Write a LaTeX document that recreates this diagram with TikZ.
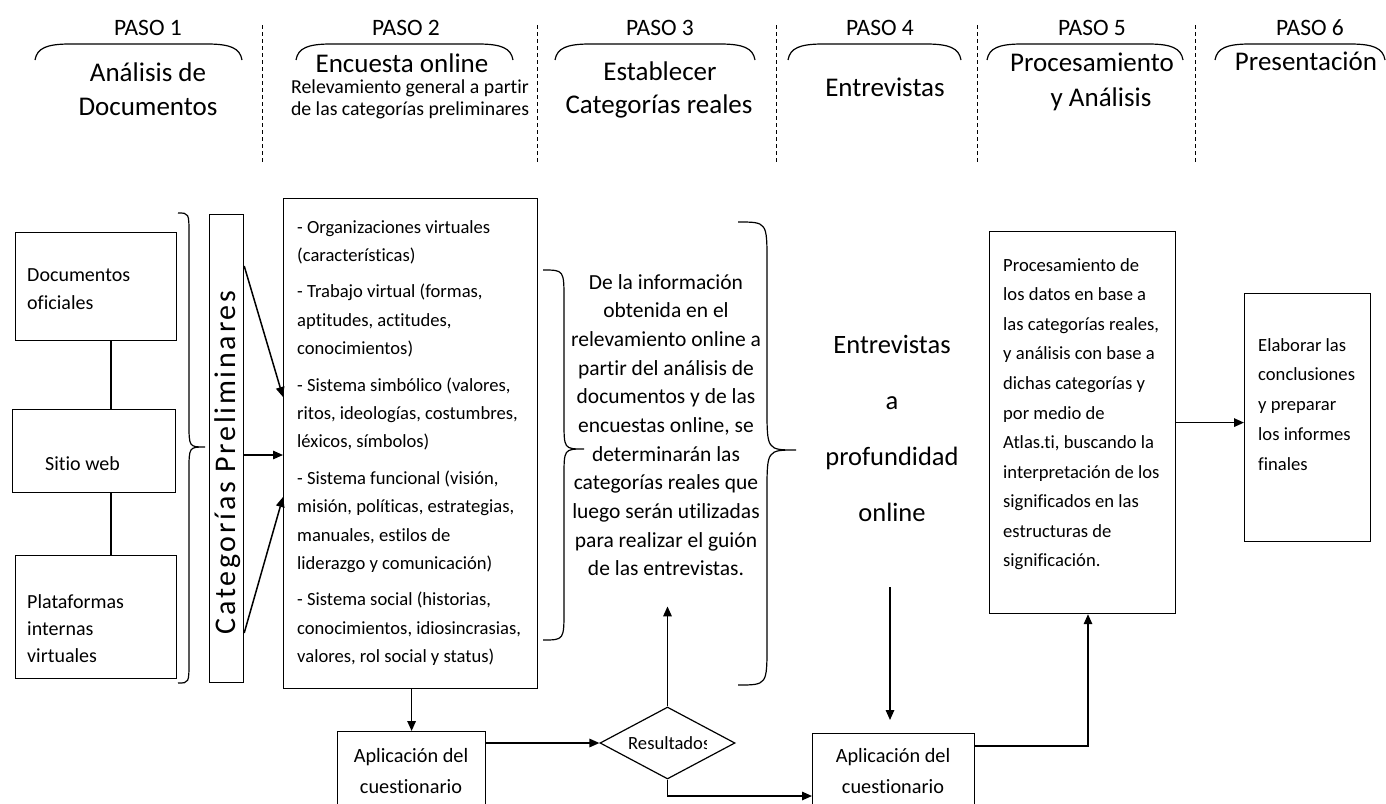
\documentclass[tikz,border=0pt]{standalone}
\usepackage{fontspec}
\setmainfont{Carlito}[Ligatures=NoCommon]
\newfontfamily\catfont[LetterSpace=9,Ligatures=NoCommon]{Carlito}
\usetikzlibrary{arrows.meta,shapes.geometric,calc}
\newcommand\myfs[2]{\fontsize{#1}{#2}\selectfont}
\newcommand\mytopbrace[2]{\draw[brc] (#1,60) .. controls (#1+2,48) and (#1+12,44) .. (#1+35,44) -- (#2-35,44) .. controls (#2-12,44) and (#2-2,48) .. (#2,60);}
\newcommand\mybrace[8]{\draw[brc] (#1,#2) .. controls (#4,#2) .. (#4,#2+#7) -- (#4,#6-#8) .. controls (#4,#6) .. (#5,#6) .. controls (#4,#6) .. (#4,#6+#8) -- (#4,#3-#7) .. controls (#4,#3) .. (#1,#3);}
\begin{document}
\begin{tikzpicture}[x=1pt,y=-1pt,
  every node/.style={inner sep=0pt},
  box/.style={draw, line width=1.2pt, inner sep=0pt, anchor=north west},
  arr/.style={line width=1.5pt, -{Triangle[length=10pt,width=8.5pt]}},
  ln/.style={line width=1.1pt},
  brc/.style={line width=1.2pt},
  dsh/.style={line width=1pt, dash pattern=on 4pt off 3pt},
  paso/.style={anchor=base, font=\myfs{23.5}{28}},
  ttl/.style={anchor=base, font=\myfs{27}{32}},
  sub/.style={anchor=base, font=\myfs{19.8}{24}}]
\useasboundingbox (0,0) rectangle (1386,803);
\fill[white] (0,0) rectangle (1386,803);

% ---------- header ----------
\node[paso] (p1) at (148,35) {PASO 1};
\node[paso] (p2) at (406,35) {PASO 2};
\node[paso] (p3) at (660,35) {PASO 3};
\node[paso] (p4) at (880,35) {PASO 4};
\node[paso] (p5) at (1092,35) {PASO 5};
\node[paso] (p6) at (1310,35) {PASO 6};

\mytopbrace{35}{242}
\mytopbrace{296}{513}
\mytopbrace{555}{755}
\mytopbrace{788}{961}
\mytopbrace{987}{1183}
\mytopbrace{1215}{1385}

\node[ttl] (t1a) at (148,81.7) {Análisis de};
\node[ttl] (t1b) at (148,115) {Documentos};
\node[ttl] (t2a) at (402,72) {Encuesta online};
\node[sub] (t2b) at (410,93) {Relevamiento general a partir};
\node[sub] (t2c) at (410,115) {de las categorías preliminares};
\node[ttl] (t3a) at (660,80) {Establecer};
\node[ttl] (t3b) at (659,113) {Categorías reales};
\node[ttl] (t4a) at (885,96) {Entrevistas};
\node[ttl] (t5a) at (1092,71) {Procesamiento};
\node[ttl] (t5b) at (1101,106) {y Análisis};
\node[ttl] (t6a) at (1306,70) {Presentación};

\foreach \xx in {262,537,776,977,1195}{\draw[dsh] (\xx,25) -- (\xx,163);}

% ---------- left column ----------
\node[box, minimum width=161pt, minimum height=108pt] (doc) at (15,232) {};
\node[box, minimum width=163pt, minimum height=83pt] (web) at (12,409) {};
\node[box, minimum width=161pt, minimum height=123pt] (plat) at (15,555) {};
\node[anchor=north west, align=left, font=\myfs{20}{27.6}] (doctxt) at (27,262.4) {\strut Documentos\\oficiales};
\node[anchor=base west, font=\myfs{20}{24}] (webtxt) at (45,470) {Sitio web};
\node[anchor=north west, align=left, font=\myfs{20}{27.3}] (plattxt) at (27,588.9) {\strut Plataformas\\internas\\virtuales};
\coordinate (lx) at (111,0);
\draw[ln] (doc.south -| lx) -- (web.north -| lx);
\draw[ln] (web.south -| lx) -- (plat.north -| lx);

\mybrace{178}{213}{683}{189}{205}{447}{22}{24}

\node[box, minimum width=34pt, minimum height=468pt] (cat) at (209,214) {};
\node[anchor=base, rotate=90, font=\catfont\myfs{30}{36}] (cattxt) at (235,462.5) {Categorías Preliminares};

% ---------- main box ----------
\node[box, minimum width=254pt, minimum height=490pt] (main) at (283,198) {};
\node[anchor=north west, align=left, font=\myfs{18.6}{28.4}] (maintxt) at (297,213.1) {\strut - Organizaciones virtuales\\
(características)\\[8pt]
- Trabajo virtual (formas,\\
aptitudes, actitudes,\\
conocimientos)\\[8pt]
- Sistema simbólico (valores,\\
ritos, ideologías, costumbres,\\
léxicos, símbolos)\\[8pt]
- Sistema funcional (visión,\\
misión, políticas, estrategias,\\
manuales, estilos de\\
liderazgo y comunicación)\\[8pt]
- Sistema social (historias,\\
conocimientos, idiosincrasias,\\
valores, rol social y status)};

\draw[arr] ($(cat.north east)+(0,52)$) -- ($(main.north west)+(0,199)$);
\draw[arr] ($(cat.north east)+(0,241)$) -- (main.west |- {$(cat.north east)+(0,241)$});
\draw[arr] ($(cat.north east)+(0,419)$) -- ($(main.north west)+(0,299)$);

% ---------- step 3 ----------
\mybrace{543}{270}{640}{564}{584}{449}{30}{28}
\node[anchor=north, align=center, font=\myfs{21.5}{28.67}] (midtxt) at (666,268.9) {\strut De la información\\
obtenida en el\\
relevamiento online a\\
partir del análisis de\\
documentos y de las\\
encuestas online, se\\
determinarán las\\
categorías reales que\\
luego serán utilizadas\\
para realizar el guión\\
de las entrevistas.};
\mybrace{738}{222}{685}{767}{796}{450}{40}{42}

% ---------- step 4 ----------
\node[anchor=north, align=center, font=\myfs{26.5}{56}] (entv) at (892,313.8) {\strut Entrevistas\\a\\profundidad\\online};

% ---------- step 5 / 6 ----------
\node[box, minimum width=186pt, minimum height=382pt] (proc) at (989,231) {};
\node[anchor=north west, align=left, font=\myfs{18.6}{29.57}] (proctxt) at (1003,250.3) {\strut Procesamiento de\\
los datos en base a\\
las categorías reales,\\
y análisis con base a\\
dichas categorías y\\
por medio de\\
Atlas.ti, buscando la\\
interpretación de los\\
significados en las\\
estructuras de\\
significación.};
\node[box, minimum width=126pt, minimum height=248pt] (elab) at (1244,293) {};
\node[anchor=north west, align=left, font=\myfs{18.6}{29.8}] (elabtxt) at (1258,330.1) {\strut Elaborar las\\
conclusiones\\
y preparar\\
los informes\\
finales};
\draw[arr] (proc.east) -- (elab.west |- proc.east);

% ---------- bottom row ----------
\node[box, minimum width=148pt, minimum height=100pt] (ap1) at (337,731) {};
\node[anchor=north, align=center, font=\myfs{20.3}{31}] (ap1txt) at (411,740.3) {\strut Aplicación del\\cuestionario};
\node[box, minimum width=162pt, minimum height=100pt] (ap2) at (812,733) {};
\node[anchor=north, align=center, font=\myfs{20.3}{31}] (ap2txt) at (893,740.3) {\strut Aplicación del\\cuestionario};

\node[draw, diamond, line width=1.2pt, minimum width=135pt, minimum height=72pt, aspect=1.875, inner sep=0pt] (res) at (667.5,743) {};
\begin{scope}
\clip (600,700) rectangle (706,790);
\node[anchor=base west, font=\myfs{18.6}{22}] (restxt) at (628,749) {Resultados};
\end{scope}

\draw[arr] (ap1.north |- main.south) -- (ap1.north);
\draw[arr] (ap1.east |- res.west) -- (res.west);
\draw[arr] (res.north) -- ++(0,-100);
\draw[arr] (res.south) |- ($(ap2.north west)+(0,63)$);
\coordinate (e1) at (890,587);
\draw[arr, shorten >=13pt] (e1) -- (e1 |- ap2.north);
\draw[arr] ($(ap2.north east)+(0,13)$) -| ($(proc.south west)+(99,0)$);
\end{tikzpicture}
\end{document}
